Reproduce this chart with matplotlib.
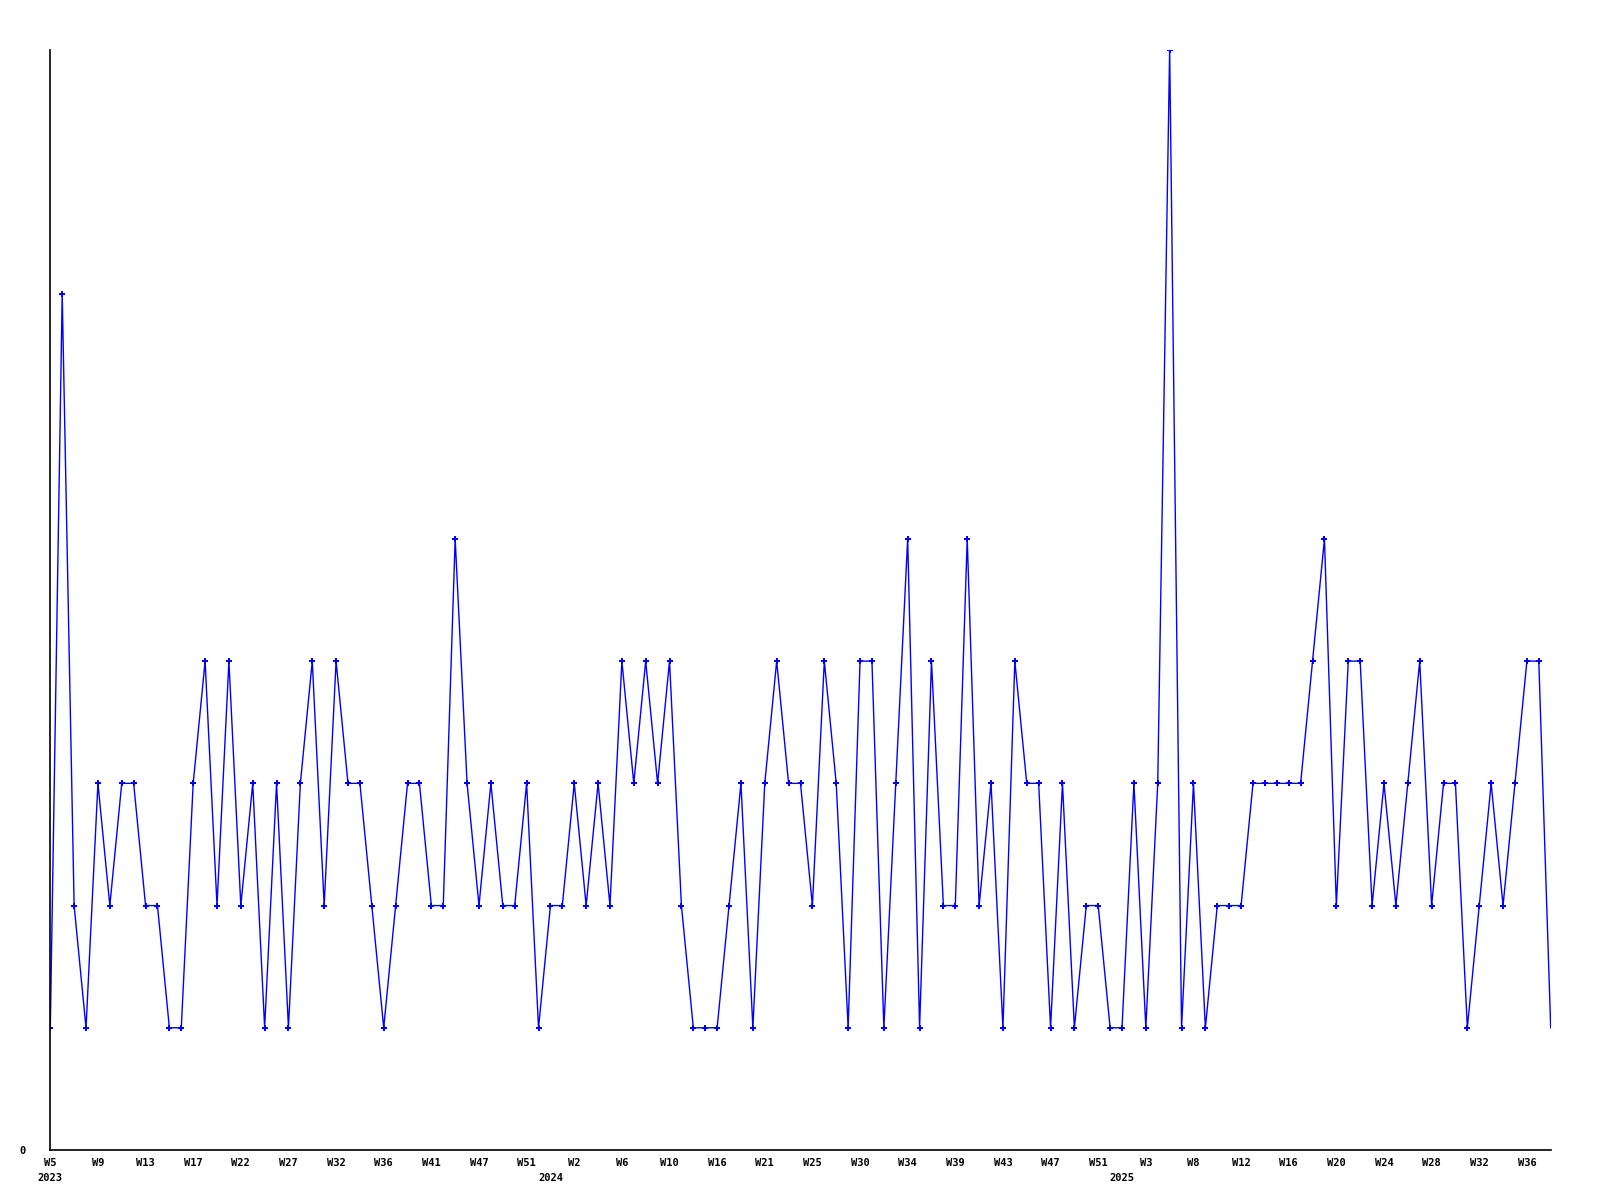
import matplotlib
matplotlib.use("Agg")
import matplotlib.pyplot as plt

# weekly counts, one point per week with data
values = [1, 7, 2, 1, 3, 2, 3, 3, 2, 2,
          1, 1, 3, 4, 2, 4, 2, 3, 1, 3,
          1, 3, 4, 2, 4, 3, 3, 2, 1, 2,
          3, 3, 2, 2, 5, 3, 2, 3, 2, 2,
          3, 1, 2, 2, 3, 2, 3, 2, 4, 3,
          4, 3, 4, 2, 1, 1, 1, 2, 3, 1,
          3, 4, 3, 3, 2, 4, 3, 1, 4, 4,
          1, 3, 5, 1, 4, 2, 2, 5, 2, 3,
          1, 4, 3, 3, 1, 3, 1, 2, 2, 1,
          1, 3, 1, 3, 9, 1, 3, 1, 2, 2,
          2, 3, 3, 3, 3, 3, 4, 5, 2, 4,
          4, 2, 3, 2, 3, 4, 2, 3, 3, 1,
          2, 3, 2, 3, 4, 4, 1]

# a week label every 4th point
week_labels = ["W5", "W9", "W13", "W17", "W22", "W27", "W32", "W36", "W41", "W47", "W51",
               "W2", "W6", "W10", "W16", "W21", "W25", "W30", "W34", "W39", "W43", "W47", "W51",
               "W3", "W8", "W12", "W16", "W20", "W24", "W28", "W32", "W36"]
label_step = 4

# year labels and the point where each year starts
years = ["2023", "2024", "2025"]
year_start = [0, 42, 90]

x = list(range(len(values)))

fig = plt.figure(figsize=(16, 12), dpi=100)
ax = fig.add_axes([50.3 / 1600, 1 - 1150 / 1200, 1500.4 / 1600, 1100 / 1200])

ax.plot(x, values, color="#0000ff", linewidth=1.0, marker="P", markersize=5,
        markeredgewidth=0, markevery=slice(0, len(values) - 1))

ax.set_xlim(0, len(values) - 1)
ax.set_ylim(0, max(values))

for side in ["top", "right"]:
    ax.spines[side].set_visible(False)
for side in ["left", "bottom"]:
    ax.spines[side].set_linewidth(1.2)
    ax.spines[side].set_color("black")

font = dict(family="DejaVu Sans Mono", weight="bold", size=7.5)

ax.set_yticks([0])
ax.set_yticklabels(["0"], fontdict=font)
ax.tick_params(axis="y", length=0, pad=17.5)

ax.set_xticks(list(range(0, len(week_labels) * label_step, label_step)))
ax.set_xticklabels(week_labels, fontdict=font)
ax.tick_params(axis="x", which="major", length=0, pad=6)

ax.xaxis.remove_overlapping_locs = False
ax.set_xticks(year_start, minor=True)
ax.set_xticklabels(years, minor=True, fontdict=font)
ax.tick_params(axis="x", which="minor", length=0, pad=16.7)

plt.savefig("out.png", dpi=100)
plt.close()
